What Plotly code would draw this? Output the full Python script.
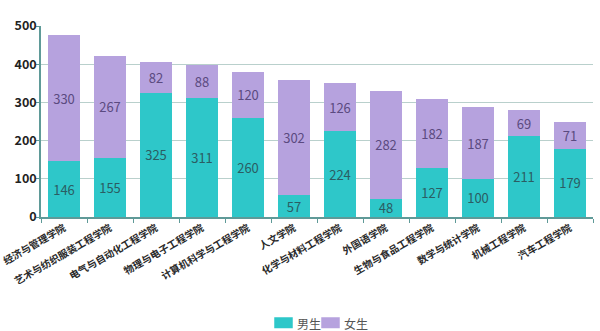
import plotly.graph_objects as go

colleges = ["经济与管理学院", "艺术与纺织服装工程学院", "电气与自动化工程学院", "物理与电子工程学院",
            "计算机科学与工程学院", "人文学院", "化学与材料工程学院", "外国语学院",
            "生物与食品工程学院", "数学与统计学院", "机械工程学院", "汽车工程学院"]
male = [146, 155, 325, 311, 260, 57, 224, 48, 127, 100, 211, 179]
female = [330, 267, 82, 88, 120, 302, 126, 282, 182, 187, 69, 71]

series_names = ["男生", "女生"]
series_colors = ["#2ec7c9", "#b6a2de"]
label_colors = ["#2b5d63", "#5b4a80"]

font_family = "Noto Sans CJK SC, Noto Sans, sans-serif"

fig = go.Figure()
for name, values, color, lcolor in zip(series_names, [male, female], series_colors, label_colors):
    fig.add_trace(go.Bar(
        name=name, x=colleges, y=values,
        marker=dict(color=color, line=dict(width=0)),
        text=values, textposition="inside", insidetextanchor="middle",
        textangle=0, constraintext="none",
        textfont=dict(color=lcolor, size=13, family=font_family),
        showlegend=False,
    ))

# compact legend drawn below the plot: swatch + label for each series
W, H = 600, 331
plot_l, plot_r, plot_t, plot_b = 41, 593, 26, 217
pw, ph = plot_r - plot_l, plot_b - plot_t


def px_x(x):
    return (x - plot_l) / pw


def px_y(y):
    return (plot_b - y) / ph


legend_items = [(275, 292, 295), (322, 339, 342)]  # swatch x0, x1, text x (px)
for (x0, x1, tx), name, color in zip(legend_items, series_names, series_colors):
    fig.add_shape(
        type="rect", xref="paper", yref="paper",
        x0=px_x(x0), x1=px_x(x1), y0=px_y(327.5), y1=px_y(318),
        line=dict(color=color, width=1.5), fillcolor=color,
    )
    fig.add_annotation(
        xref="paper", yref="paper", x=px_x(tx), y=px_y(323),
        xanchor="left", yanchor="middle", showarrow=False,
        text=name, font=dict(size=12, color="#555", family=font_family),
    )

fig.update_layout(
    barmode="stack",
    bargap=0.3,
    width=W, height=H,
    margin=dict(l=plot_l, r=W - plot_r, t=plot_t, b=H - plot_b, autoexpand=False),
    paper_bgcolor="white",
    plot_bgcolor="white",
    font=dict(family=font_family, color="#333"),
    showlegend=False,
    xaxis=dict(
        automargin=False,
        tickangle=-30,
        tickfont=dict(size=10, color="#2a2a2a", family=font_family, weight="bold"),
        showline=True, linecolor="#5f9a98", linewidth=1.5,
        ticks="outside", tickson="boundaries", ticklen=4, tickcolor="#5f9a98",
        showgrid=False,
    ),
    yaxis=dict(
        automargin=False,
        range=[0, 500], dtick=100,
        tickfont=dict(size=12.5, color="#222", family=font_family, weight="bold"),
        showline=True, linecolor="#5f9a98", linewidth=1.5,
        ticks="outside", ticklen=3, tickcolor="#5f9a98",
        ticklabelstandoff=-3,
        showgrid=True, gridcolor="#b9d0cc", gridwidth=1.2,
        zeroline=False,
    ),
)

fig.write_html("out.html")
